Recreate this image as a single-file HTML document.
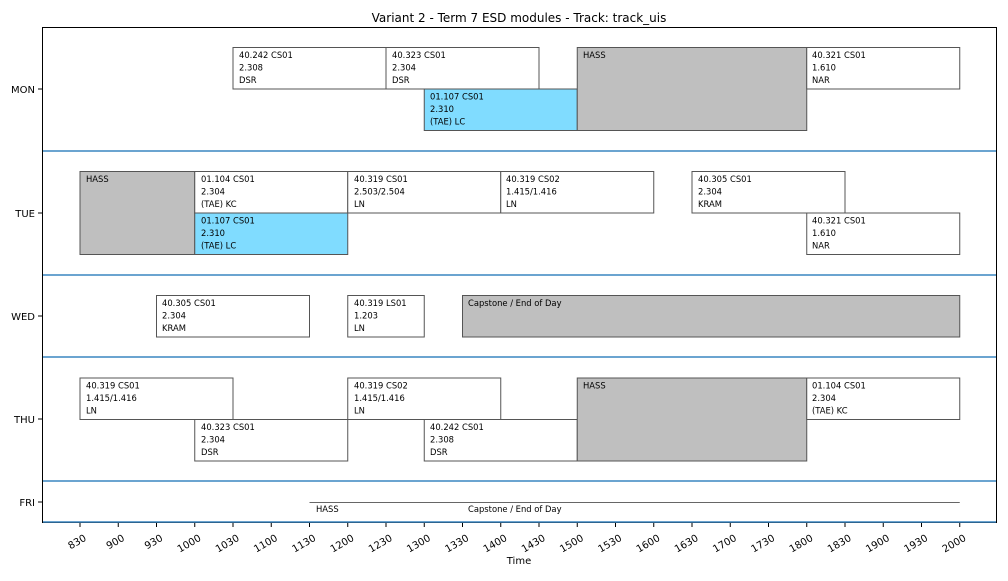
<!DOCTYPE html>
<html><head><meta charset="utf-8"><style>
body{margin:0;background:#fff}
svg text{font-family:"DejaVu Sans","Liberation Sans",sans-serif}
.b{font-size:8.4px;fill:#000}
.w{fill:#fff;stroke:#555;stroke-width:1}
.c{fill:#80dcff;stroke:#555;stroke-width:1}
.g{fill:#bfbfbf;stroke:#555;stroke-width:1}
.sep{stroke:#3a86c0;stroke-width:1.6}
.tk{font-size:10px;fill:#000}
</style></head><body>
<svg width="1008" height="576" viewBox="0 0 1008 576" xmlns="http://www.w3.org/2000/svg">
<text x="519" y="22" text-anchor="middle" style="font-size:12px">Variant 2 - Term 7 ESD modules - Track: track_uis</text>
<rect x="42.5" y="27.5" width="954" height="495" fill="#fff" stroke="#000" stroke-width="1"/>

<rect class="w" x="233" y="47.5" width="153" height="41.5"/>
<text class="b" x="239" y="58">40.242 CS01</text><text class="b" x="239" y="70.5">2.308</text><text class="b" x="239" y="83">DSR</text>
<rect class="w" x="386" y="47.5" width="153" height="41.5"/>
<text class="b" x="392" y="58">40.323 CS01</text><text class="b" x="392" y="70.5">2.304</text><text class="b" x="392" y="83">DSR</text>
<rect class="c" x="424.25" y="89" width="153" height="41.5"/>
<text class="b" x="430" y="99.5">01.107 CS01</text><text class="b" x="430" y="112">2.310</text><text class="b" x="430" y="124.5">(TAE) LC</text>
<rect class="g" x="577.25" y="47.5" width="229.5" height="83"/>
<text class="b" x="583" y="58">HASS</text>
<rect class="w" x="806.75" y="47.5" width="153" height="41.5"/>
<text class="b" x="812" y="58">40.321 CS01</text><text class="b" x="812" y="70.5">1.610</text><text class="b" x="812" y="83">NAR</text>

<rect class="g" x="80" y="171.5" width="114.75" height="83"/>
<text class="b" x="86" y="182">HASS</text>
<rect class="w" x="194.75" y="171.5" width="153" height="41.5"/>
<text class="b" x="201" y="182">01.104 CS01</text><text class="b" x="201" y="194.5">2.304</text><text class="b" x="201" y="207">(TAE) KC</text>
<rect class="c" x="194.75" y="213" width="153" height="41.5"/>
<text class="b" x="201" y="223.5">01.107 CS01</text><text class="b" x="201" y="236">2.310</text><text class="b" x="201" y="248.5">(TAE) LC</text>
<rect class="w" x="347.75" y="171.5" width="153" height="41.5"/>
<text class="b" x="354" y="182">40.319 CS01</text><text class="b" x="354" y="194.5">2.503/2.504</text><text class="b" x="354" y="207">LN</text>
<rect class="w" x="500.75" y="171.5" width="153" height="41.5"/>
<text class="b" x="506" y="182">40.319 CS02</text><text class="b" x="506" y="194.5">1.415/1.416</text><text class="b" x="506" y="207">LN</text>
<rect class="w" x="692" y="171.5" width="153" height="41.5"/>
<text class="b" x="698" y="182">40.305 CS01</text><text class="b" x="698" y="194.5">2.304</text><text class="b" x="698" y="207">KRAM</text>
<rect class="w" x="806.75" y="213" width="153" height="41.5"/>
<text class="b" x="812" y="223.5">40.321 CS01</text><text class="b" x="812" y="236">1.610</text><text class="b" x="812" y="248.5">NAR</text>

<rect class="w" x="156.5" y="295.5" width="153" height="41.5"/>
<text class="b" x="162" y="306">40.305 CS01</text><text class="b" x="162" y="318.5">2.304</text><text class="b" x="162" y="331">KRAM</text>
<rect class="w" x="347.75" y="295.5" width="76.5" height="41.5"/>
<text class="b" x="354" y="306">40.319 LS01</text><text class="b" x="354" y="318.5">1.203</text><text class="b" x="354" y="331">LN</text>
<rect class="g" x="462.5" y="295.5" width="497.25" height="41.5"/>
<text class="b" x="468" y="306">Capstone / End of Day</text>

<rect class="w" x="80" y="378" width="153" height="41.5"/>
<text class="b" x="86" y="388.5">40.319 CS01</text><text class="b" x="86" y="401">1.415/1.416</text><text class="b" x="86" y="413.5">LN</text>
<rect class="w" x="194.75" y="419.5" width="153" height="41.5"/>
<text class="b" x="201" y="430">40.323 CS01</text><text class="b" x="201" y="442.5">2.304</text><text class="b" x="201" y="455">DSR</text>
<rect class="w" x="347.75" y="378" width="153" height="41.5"/>
<text class="b" x="354" y="388.5">40.319 CS02</text><text class="b" x="354" y="401">1.415/1.416</text><text class="b" x="354" y="413.5">LN</text>
<rect class="w" x="424.25" y="419.5" width="153" height="41.5"/>
<text class="b" x="430" y="430">40.242 CS01</text><text class="b" x="430" y="442.5">2.308</text><text class="b" x="430" y="455">DSR</text>
<rect class="g" x="577.25" y="378" width="229.5" height="83"/>
<text class="b" x="583" y="388.5">HASS</text>
<rect class="w" x="806.75" y="378" width="153" height="41.5"/>
<text class="b" x="812" y="388.5">01.104 CS01</text><text class="b" x="812" y="401">2.304</text><text class="b" x="812" y="413.5">(TAE) KC</text>

<line x1="309.5" y1="502.5" x2="959.75" y2="502.5" stroke="#666" stroke-width="1"/>
<text class="b" x="316" y="512">HASS</text>
<text class="b" x="468" y="512">Capstone / End of Day</text>

<line class="sep" x1="42" y1="151" x2="997" y2="151"/>
<line class="sep" x1="42" y1="275" x2="997" y2="275"/>
<line class="sep" x1="42" y1="357" x2="997" y2="357"/>
<line class="sep" x1="42" y1="481" x2="997" y2="481"/>
<line class="sep" x1="42" y1="522" x2="997" y2="522"/>
<line x1="42.5" y1="27" x2="42.5" y2="523" stroke="#000"/>
<line x1="996.5" y1="27" x2="996.5" y2="523" stroke="#000"/>

<g stroke="#000"><line x1="38" y1="89" x2="42" y2="89"/><line x1="38" y1="213" x2="42" y2="213"/><line x1="38" y1="316" x2="42" y2="316"/><line x1="38" y1="419" x2="42" y2="419"/><line x1="38" y1="502" x2="42" y2="502"/></g>
<g class="tk" text-anchor="end">
<text x="35" y="93" class="tk">MON</text><text x="35" y="217" class="tk">TUE</text><text x="35" y="320" class="tk">WED</text><text x="35" y="423" class="tk">THU</text><text x="35" y="506" class="tk">FRI</text>
</g>

<g stroke="#000">
<line x1="80" y1="523" x2="80" y2="527"/><line x1="118.25" y1="523" x2="118.25" y2="527"/><line x1="156.5" y1="523" x2="156.5" y2="527"/><line x1="194.75" y1="523" x2="194.75" y2="527"/><line x1="233" y1="523" x2="233" y2="527"/><line x1="271.25" y1="523" x2="271.25" y2="527"/><line x1="309.5" y1="523" x2="309.5" y2="527"/><line x1="347.75" y1="523" x2="347.75" y2="527"/><line x1="386" y1="523" x2="386" y2="527"/><line x1="424.25" y1="523" x2="424.25" y2="527"/><line x1="462.5" y1="523" x2="462.5" y2="527"/><line x1="500.75" y1="523" x2="500.75" y2="527"/><line x1="539" y1="523" x2="539" y2="527"/><line x1="577.25" y1="523" x2="577.25" y2="527"/><line x1="615.5" y1="523" x2="615.5" y2="527"/><line x1="653.75" y1="523" x2="653.75" y2="527"/><line x1="692" y1="523" x2="692" y2="527"/><line x1="730.25" y1="523" x2="730.25" y2="527"/><line x1="768.5" y1="523" x2="768.5" y2="527"/><line x1="806.75" y1="523" x2="806.75" y2="527"/><line x1="845" y1="523" x2="845" y2="527"/><line x1="883.25" y1="523" x2="883.25" y2="527"/><line x1="921.5" y1="523" x2="921.5" y2="527"/><line x1="959.75" y1="523" x2="959.75" y2="527"/>
</g>
<g class="tk" text-anchor="end">
<text transform="translate(87,540) rotate(-30)">830</text>
<text transform="translate(125.25,540) rotate(-30)">900</text>
<text transform="translate(163.5,540) rotate(-30)">930</text>
<text transform="translate(201.75,540) rotate(-30)">1000</text>
<text transform="translate(240,540) rotate(-30)">1030</text>
<text transform="translate(278.25,540) rotate(-30)">1100</text>
<text transform="translate(316.5,540) rotate(-30)">1130</text>
<text transform="translate(354.75,540) rotate(-30)">1200</text>
<text transform="translate(393,540) rotate(-30)">1230</text>
<text transform="translate(431.25,540) rotate(-30)">1300</text>
<text transform="translate(469.5,540) rotate(-30)">1330</text>
<text transform="translate(507.75,540) rotate(-30)">1400</text>
<text transform="translate(546,540) rotate(-30)">1430</text>
<text transform="translate(584.25,540) rotate(-30)">1500</text>
<text transform="translate(622.5,540) rotate(-30)">1530</text>
<text transform="translate(660.75,540) rotate(-30)">1600</text>
<text transform="translate(699,540) rotate(-30)">1630</text>
<text transform="translate(737.25,540) rotate(-30)">1700</text>
<text transform="translate(775.5,540) rotate(-30)">1730</text>
<text transform="translate(813.75,540) rotate(-30)">1800</text>
<text transform="translate(852,540) rotate(-30)">1830</text>
<text transform="translate(890.25,540) rotate(-30)">1900</text>
<text transform="translate(928.5,540) rotate(-30)">1930</text>
<text transform="translate(966.75,540) rotate(-30)">2000</text>
</g>
<text x="519" y="564" text-anchor="middle" class="tk">Time</text>
</svg>
</body></html>
